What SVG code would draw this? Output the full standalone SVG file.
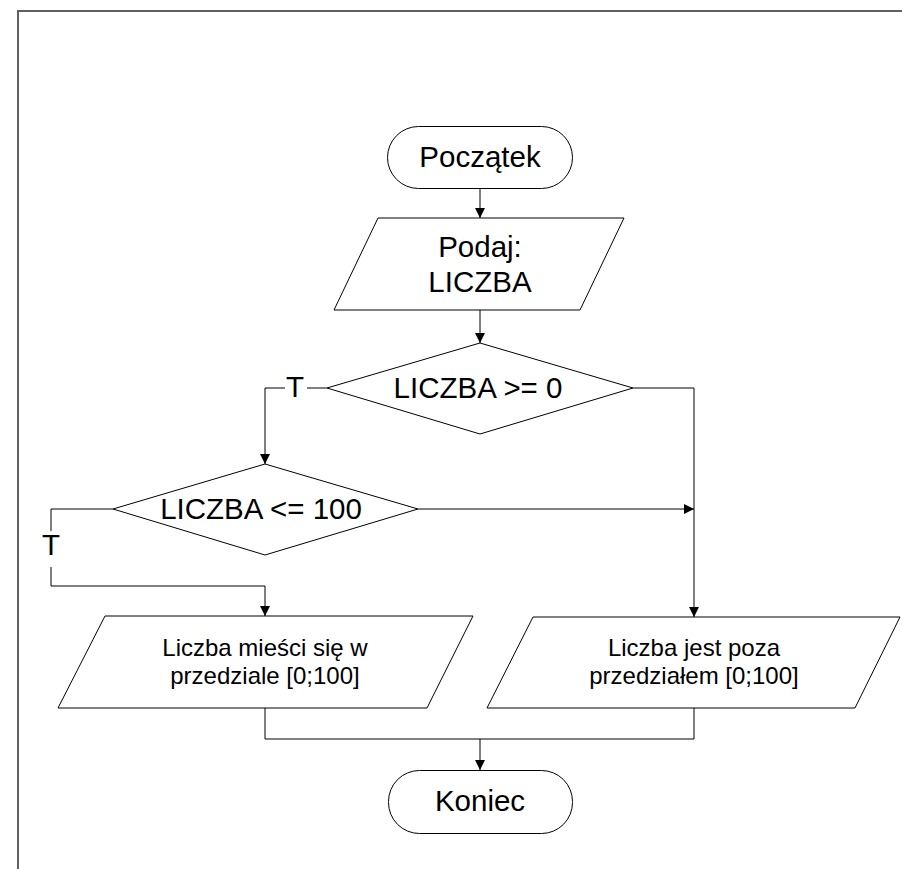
<svg xmlns="http://www.w3.org/2000/svg" width="902" height="869" viewBox="0 0 902 869">
<defs>
<marker id="arr" viewBox="0 0 10 10" refX="10" refY="5" markerWidth="10" markerHeight="10" markerUnits="userSpaceOnUse" orient="auto">
<path d="M0,0 L10,5 L0,10 Z" fill="#000"/>
</marker>
</defs>
<style>
.shape{fill:#fff;stroke:#000;stroke-width:1}
.line{fill:none;stroke:#000;stroke-width:1}
.big{font-family:"Liberation Sans",Arial,sans-serif;font-size:29.5px;fill:#000;text-anchor:middle}
.small{font-family:"Liberation Sans",Arial,sans-serif;font-size:24px;fill:#000;text-anchor:middle}
.frame{fill:none;stroke:#606060;stroke-width:2}
</style>
<rect width="902" height="869" fill="#fff"/>
<path class="frame" d="M18,869 L18,11 L902,11"/>

<g id="connectors">
<line class="line" x1="480" y1="189" x2="480" y2="218" marker-end="url(#arr)"/>
<line class="line" x1="480" y1="310" x2="480" y2="343" marker-end="url(#arr)"/>
<path class="line" d="M327,388 L307,388"/>
<path class="line" d="M285,388 L265,388 L265,464" marker-end="url(#arr)"/>
<path class="line" d="M633,388 L694,388 L694,617" marker-end="url(#arr)"/>
<line class="line" x1="418" y1="509" x2="694" y2="509" marker-end="url(#arr)"/>
<path class="line" d="M113,509 L51,509 L51,531"/>
<path class="line" d="M51,567 L51,586 L265,586 L265,616" marker-end="url(#arr)"/>
<path class="line" d="M265,708 L265,739 L694,739 L694,708"/>
<line class="line" x1="480" y1="739" x2="480" y2="770" marker-end="url(#arr)"/>
<text class="big" x="295" y="397">T</text>
<text class="big" x="51" y="555">T</text>
</g>

<g id="start">
<rect class="shape" x="387.5" y="126.5" width="185" height="62" rx="31" ry="31"/>
<text class="big" x="480" y="167">Początek</text>
</g>

<g id="input">
<polygon class="shape" points="378,218 624,218 580,310 334,310"/>
<text class="big" x="480" y="257">Podaj:</text>
<text class="big" x="480" y="292">LICZBA</text>
</g>

<g id="decision1">
<polygon class="shape" points="480,343 633,388 480,434 327,388"/>
<text class="big" x="478" y="398">LICZBA &gt;= 0</text>
</g>

<g id="decision2">
<polygon class="shape" points="265,464 418,509 265,555 113,509"/>
<text class="big" x="261" y="519">LICZBA &lt;= 100</text>
</g>

<g id="output-in">
<polygon class="shape" points="105,616 473,616 427,708 58,708"/>
<text class="small" x="265" y="656">Liczba mieści się w</text>
<text class="small" x="265" y="684">przedziale [0;100]</text>
</g>

<g id="output-out">
<polygon class="shape" points="533,617 900,617 855,708 487,708"/>
<text class="small" x="694" y="656">Liczba jest poza</text>
<text class="small" x="694" y="684">przedziałem [0;100]</text>
</g>

<g id="end">
<rect class="shape" x="388.5" y="770.5" width="184" height="63" rx="31" ry="31"/>
<text class="big" x="480" y="811">Koniec</text>
</g>
</svg>
